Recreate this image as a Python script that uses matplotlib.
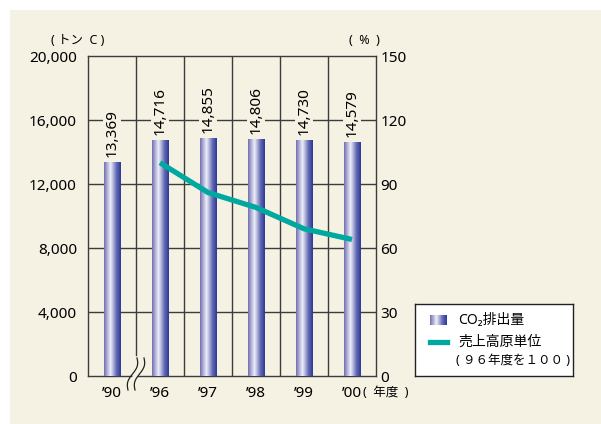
import numpy as np
import matplotlib.pyplot as plt
from matplotlib.patches import Rectangle
from matplotlib.lines import Line2D

plt.rcParams['font.family'] = ['Noto Sans', 'Noto Sans CJK JP', 'DejaVu Sans']

years = ["’90", "’96", "’97", "’98", "’99", "’00"]
co2 = [13369, 14716, 14855, 14806, 14730, 14579]
unit_years = [1, 2, 3, 4, 5]          # positions of '96..'00
unit_index = [100, 86, 79, 69, 64]    # sales-basis unit (FY96 = 100)

cream = '#f5f1e3'
teal = '#00a99f'
grid_c = '#3c3c3c'

fig = plt.figure(figsize=(6.01, 4.24), dpi=100, facecolor='white')
fig.patches.append(Rectangle((10/601, 0), 1, 1 - 10/424, transform=fig.transFigure,
                             facecolor=cream, edgecolor='none', zorder=-10))

W, H = 601, 424
ax = fig.add_axes([88/W, 1 - 376/H, 288/W, 320/H])
ax.set_facecolor(cream)
ax2 = ax.twinx()

# horizontal gradient used for the bars
stops = [(0.0, (112, 112, 178)), (0.38, (240, 240, 250)), (0.75, (96, 104, 178)), (1.0, (46, 56, 150))]
n = 64
t = np.linspace(0, 1, n)
grad = np.zeros((1, n, 3))
for c in range(3):
    grad[0, :, c] = np.interp(t, [s[0] for s in stops], [s[1][c] for s in stops]) / 255

bw = 0.35
for i, v in enumerate(co2):
    ax.imshow(grad, extent=[i - bw/2, i + bw/2, 0, v], aspect='auto', zorder=3,
              interpolation='bilinear')
    ax.annotate(f'{v:,}', (i, v), xytext=(0, 4), textcoords='offset points',
                rotation=90, ha='center', va='bottom', fontsize=11, zorder=4,
                bbox=dict(boxstyle='square,pad=0.1', facecolor=cream, edgecolor='none'))

ax.set_xlim(-0.5, 5.5)
ax.set_ylim(0, 20000)
ax.set_yticks(np.arange(0, 20001, 4000))
ax.set_yticklabels([f'{v:,}' for v in range(0, 20001, 4000)])
ax.set_xticks(range(6))
ax.set_xticklabels(years)
ax.tick_params(length=0, labelsize=11)
ax.tick_params(axis='y', pad=8)
ax.tick_params(axis='x', pad=7)

# grid
for y in range(4000, 20000, 4000):
    ax.axhline(y, color=grid_c, lw=1, zorder=1)
for x in [1.5, 2.5, 3.5, 4.5]:
    ax.axvline(x, color=grid_c, lw=1, zorder=1)
ax.axvline(0.5, ymin=21/320, ymax=1, color=grid_c, lw=1, zorder=1)
for s in ax.spines.values():
    s.set_color(grid_c)
    s.set_linewidth(1)

# axis break marks between '90 and '96
tr = ax.get_xaxis_transform()
tt = np.linspace(0, 1, 60)
yy = (376 - (358 + 32 * tt)) / 320
for off in [0, 7]:
    xx = (137 + off - 9 * tt + 2.5 * np.sin(2 * np.pi * tt) - 88) / 48 - 0.5
    ax.plot(xx, yy, color='#222222', lw=0.9, transform=tr, clip_on=False, zorder=6)
xa = (137 - 9 * tt + 2.5 * np.sin(2 * np.pi * tt) - 88) / 48 - 0.5
ax.fill_betweenx(yy, xa + 0.02, xa + 7/48 - 0.02, color=cream, transform=tr,
                 clip_on=False, zorder=5, lw=0)

ax2.plot(unit_years, unit_index, color=teal, lw=3.8, solid_capstyle='butt', zorder=5)
ax2.set_ylim(0, 150)
ax2.set_yticks(range(0, 151, 30))
ax2.tick_params(length=0, labelsize=11, pad=3)
for s in ax2.spines.values():
    s.set_visible(False)

fig.text(78/W, 1 - 40/H, '( トン  C )', ha='center', va='center', fontsize=9)
fig.text(364/W, 1 - 40/H, '(  %  )', ha='center', va='center', fontsize=9)
fig.text(363/W, 1 - 393/H, '(  年度  )', ha='left', va='center', fontsize=9)

# legend box
lg = fig.add_axes([415/W, 1 - 376/H, 158/W, 72/H])
lg.set_xticks([])
lg.set_yticks([])
lg.set_facecolor('white')
for s in lg.spines.values():
    s.set_color('#222222')
    s.set_linewidth(1)
lg.imshow(grad, extent=[15, 32, 21, 11], aspect='auto')
lg.add_line(Line2D([15, 32], [38, 38], color=teal, lw=3.8))
lg.set_xlim(0, 158)
lg.set_ylim(72, 0)
lg.text(43, 17, 'CO₂排出量', va='center', fontsize=10)
lg.text(43, 38, '売上高原単位', va='center', fontsize=10)
lg.text(41, 57, '( ９６年度を１００ )', va='center', fontsize=9)

fig.savefig('out.png', dpi=100, facecolor='white')
